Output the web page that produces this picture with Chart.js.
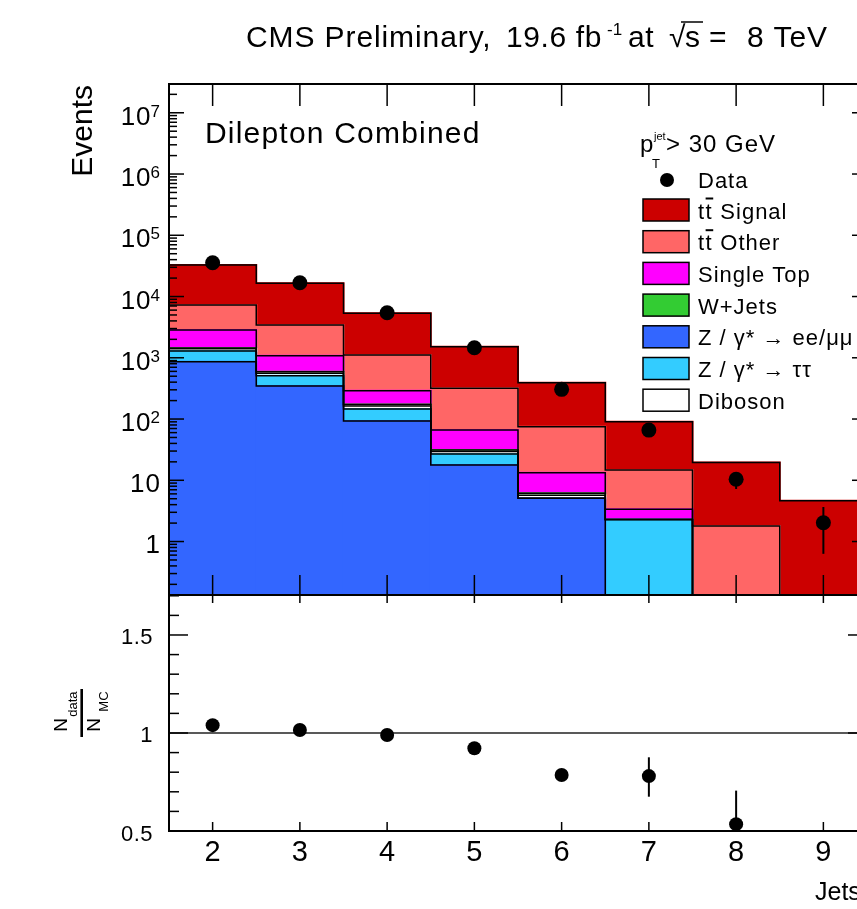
<!DOCTYPE html>
<html>
<head>
<meta charset="utf-8">
<script src="https://cdn.jsdelivr.net/npm/chart.js@4.4.1/dist/chart.umd.min.js"></script>
<style>
  html, body { margin: 0; padding: 0; background: #fff; overflow: hidden; }
  #wrap { position: relative; width: 857px; height: 909px; overflow: hidden; background: #fff; }
  canvas { position: absolute; left: 0; top: 0; }
</style>
</head>
<body>
<div id="wrap">
  <canvas id="main" width="880" height="909"></canvas>
  <canvas id="ratio" width="880" height="909"></canvas>
</div>
<script>
// jet multiplicity bins
var jetBins = [2, 3, 4, 5, 6, 7, 8, 9]

// MC components per bin, bottom of the stack first
var zEEMuMu   = [860, 346, 93, 17.7, 5.07, 0, 0, 0]
var zTauTau   = [430, 163, 53, 9.1, 0, 2.3, 0, 0]
var diboson   = [110, 50, 17, 2.8, 0.65, 0, 0, 0]
var wJets     = [50, 30, 10, 1.6, 0.4, 0, 0, 0]
var singleTop = [1390, 490, 117, 34.9, 7.2, 1.06, 0, 0]
var ttOther   = [4420, 2345, 819, 251, 61.5, 11.3, 1.79, 0]
var ttSignal  = [25440, 13000, 4211, 1197, 317, 75.7, 17.8, 4.64]

// data points and their error bars
var dataEvents = [35600, 16800, 5440, 1460, 305, 66, 10.4, 2.03]
var dataErrLo  = [35400, 16670, 5370, 1420, 288, 58, 7.2, 0.63]
var dataErrHi  = [35800, 16930, 5510, 1500, 323, 75, 12.6, 3.66]

// ratio panel (bin 9 falls below the shown range)
var ratioValues = [1.04, 1.015, 0.99, 0.922, 0.786, 0.78, 0.535, null]
var ratioErrLo  = [1.03, 1.005, 0.98, 0.91, 0.765, 0.675, 0.36, null]
var ratioErrHi  = [1.05, 1.025, 1.0, 0.934, 0.807, 0.876, 0.706, null]

// tick labels
var logTickExp = [0, 1, 2, 3, 4, 5, 6, 7]
var ratioTickValues = [0.5, 1, 1.5]
var ratioTickLabels = ["0.5", "1", "1.5"]

var xMin = 1.5, xMax = 9.5
var yMin = 0.134, yMax = 2.95e7
var ratioMin = 0.5, ratioMax = 1.704

var stack = [
    { name: "Z / γ* → ee/μμ", values: zEEMuMu, color: "#3366ff" },
    { name: "Z / γ* → ττ", values: zTauTau, color: "#33ccff" },
    { name: "Diboson", values: diboson, color: "#ffffff" },
    { name: "W+Jets", values: wJets, color: "#33cc33" },
    { name: "Single Top", values: singleTop, color: "#ff00ff" },
    { name: " Other", tt: true, values: ttOther, color: "#ff6666" },
    { name: " Signal", tt: true, values: ttSignal, color: "#cc0000" }
]
// legend order, top to bottom
var legendRows = [6, 5, 4, 3, 0, 1, 2]

function font(size) { return size + 'px "Liberation Sans", Arial, sans-serif' }

function write(ctx, s, x, y, size, align, spacing) {
    ctx.letterSpacing = (spacing || 0) + "px"
    ctx.font = font(size)
    ctx.textAlign = align || "left"
    ctx.textBaseline = "alphabetic"
    ctx.fillText(s, x, y)
}

function widthOf(ctx, s, size, spacing) {
    ctx.letterSpacing = (spacing || 0) + "px"
    ctx.font = font(size)
    return ctx.measureText(s).width
}

function seg(ctx, x1, y1, x2, y2) {
    ctx.beginPath()
    ctx.moveTo(x1, y1)
    ctx.lineTo(x2, y2)
    ctx.stroke()
}

// build stacked layers: fills as floating bars, outlines as step lines
var running = jetBins.map(function () { return 0 })
var barSets = []
var edgeSets = []
stack.forEach(function (layer) {
    var lower = running.slice()
    running = running.map(function (v, i) { return v + layer.values[i] })
    var upper = running.slice()

    var bars = []
    jetBins.forEach(function (b, i) {
        if (upper[i] > lower[i]) bars.push({ x: b, y: [Math.max(lower[i], yMin), upper[i]] })
    })
    barSets.push({
        type: "bar", data: bars, backgroundColor: layer.color, borderWidth: 0, inflateAmount: 1,
        grouped: false, barPercentage: 1, categoryPercentage: 1, order: 3
    })

    var edges = jetBins.map(function (b, i) { return { x: b - 0.5, y: Math.max(upper[i], yMin) } })
    edges.push({ x: jetBins[jetBins.length - 1] + 0.5, y: Math.max(upper[upper.length - 1], yMin) })
    edgeSets.push({
        type: "line", data: edges, stepped: "before", borderColor: "#000", borderWidth: 1.5,
        pointRadius: 0, fill: false, order: 2
    })
})

var dataSet = {
    type: "line", showLine: false, order: 1,
    data: jetBins.map(function (b, i) { return { x: b, y: dataEvents[i] } }),
    pointRadius: 7.5, pointBackgroundColor: "#000", pointBorderColor: "#000", pointBorderWidth: 0
}

var mainDecor = {
    id: "mainDecor",
    afterDatasetsDraw: function (chart) {
        var ctx = chart.ctx, area = chart.chartArea, xs = chart.scales.x, ys = chart.scales.y
        ctx.save()
        ctx.beginPath()
        ctx.rect(area.left, area.top, area.right - area.left, area.bottom - area.top)
        ctx.clip()
        ctx.strokeStyle = "#000"
        ctx.lineWidth = 2
        jetBins.forEach(function (b, i) {
            var px = xs.getPixelForValue(b)
            seg(ctx, px, ys.getPixelForValue(dataErrLo[i]), px, ys.getPixelForValue(dataErrHi[i]))
        })
        ctx.restore()
    },
    afterDraw: function (chart) {
        var ctx = chart.ctx, area = chart.chartArea, xs = chart.scales.x, ys = chart.scales.y
        ctx.save()
        ctx.fillStyle = "#000"
        ctx.strokeStyle = "#000"

        // log ticks on both sides
        ctx.lineWidth = 1.5
        for (var e = -1; e <= 7; e++) {
            for (var m = 1; m <= 9; m++) {
                var v = m * Math.pow(10, e)
                if (v < yMin || v > yMax) continue
                var py = ys.getPixelForValue(v)
                var len = m == 1 ? 15 : 8
                seg(ctx, area.left, py, area.left + len, py)
                seg(ctx, area.right, py, area.right - len, py)
            }
        }
        jetBins.forEach(function (b) {
            var px = xs.getPixelForValue(b)
            seg(ctx, px, area.bottom, px, area.bottom - 20)
            seg(ctx, px, area.top, px, area.top + 22)
        })
        ctx.lineWidth = 2
        ctx.strokeRect(area.left, area.top, area.right - area.left, area.bottom - area.top)

        // y tick labels
        logTickExp.forEach(function (n) {
            var py = ys.getPixelForValue(Math.pow(10, n))
            if (n == 0) write(ctx, "1", 160, py + 11, 26, "right")
            else if (n == 1) write(ctx, "10", 161, py + 11.5, 26, "right", 1)
            else {
                var w = widthOf(ctx, String(n), 17)
                write(ctx, String(n), 160, py + 4, 17, "right")
                write(ctx, "10", 161 - w, py + 12, 26, "right", 1)
            }
        })

        // axis title
        ctx.save()
        ctx.translate(92, 85)
        ctx.rotate(-Math.PI / 2)
        write(ctx, "Events", 0, 0, 30, "right")
        ctx.restore()

        // title
        write(ctx, "CMS Preliminary,", 246, 47, 30, "left", 0.9)
        write(ctx, "19.6 fb", 506, 47, 30, "left", 0.6)
        write(ctx, "-1", 607, 35, 17, "left")
        write(ctx, "at", 628, 47, 30, "left", 0.6)
        write(ctx, "√", 669, 47, 30, "left")
        write(ctx, "s", 685, 47, 30, "left")
        ctx.lineWidth = 1.5
        seg(ctx, 681, 22, 703, 22)
        write(ctx, "=", 709, 47, 30, "left")
        write(ctx, "8 TeV", 747, 47, 30, "left", 0.8)

        // channel label
        write(ctx, "Dilepton Combined", 205, 143, 30, "left", 1.2)

        // legend
        write(ctx, "p", 640, 152, 24, "left")
        write(ctx, "jet", 654, 140, 11, "left")
        write(ctx, "T", 652, 168, 13, "left")
        write(ctx, "> 30 GeV", 666, 152, 24, "left", 1)

        ctx.beginPath()
        ctx.arc(667, 180, 7, 0, Math.PI * 2)
        ctx.fill()
        write(ctx, "Data", 698, 188, 22, "left", 1)

        legendRows.forEach(function (k, i) {
            var layer = stack[k]
            var top = 199 + i * 31.7
            ctx.fillStyle = layer.color
            ctx.fillRect(643, top, 46, 22)
            ctx.lineWidth = 1.5
            ctx.strokeStyle = "#000"
            ctx.strokeRect(643, top, 46, 22)
            ctx.fillStyle = "#000"
            var base = top + 19.5
            if (layer.tt) {
                var w1 = widthOf(ctx, "t", 22, 1.5)
                write(ctx, "tt", 698, base, 22, "left", 1.5)
                ctx.lineWidth = 2
                seg(ctx, 698 + w1, top - 0.5, 698 + 2 * w1, top - 0.5)
                write(ctx, layer.name, 698 + 2 * w1, base, 22, "left", 1)
            } else {
                write(ctx, layer.name, 698, base, 22, "left", 1)
            }
        })
        ctx.restore()
    }
}

new Chart(document.getElementById("main"), {
    type: "bar",
    data: { datasets: barSets.concat(edgeSets).concat([dataSet]) },
    options: {
        responsive: false,
        animation: false,
        devicePixelRatio: 1,
        layout: { padding: { left: 169, top: 84, right: 13, bottom: 909 - 595 } },
        plugins: { legend: { display: false }, tooltip: { enabled: false } },
        scales: {
            x: {
                type: "linear", min: xMin, max: xMax, offset: false, bounds: "data", display: false,
                afterBuildTicks: function (s) { s.ticks = jetBins.map(function (v) { return { value: v } }) }
            },
            y: { type: "logarithmic", min: yMin, max: yMax, display: false }
        }
    },
    plugins: [mainDecor]
})

// ratio panel
var ratioPoints = []
jetBins.forEach(function (b, i) {
    if (ratioValues[i] != null) ratioPoints.push({ x: b, y: ratioValues[i] })
})

var ratioDecor = {
    id: "ratioDecor",
    afterDatasetsDraw: function (chart) {
        var ctx = chart.ctx, area = chart.chartArea, xs = chart.scales.x, ys = chart.scales.y
        ctx.save()
        ctx.beginPath()
        ctx.rect(area.left, area.top, area.right - area.left, area.bottom - area.top)
        ctx.clip()
        ctx.strokeStyle = "#000"
        ctx.lineWidth = 2
        jetBins.forEach(function (b, i) {
            if (ratioValues[i] == null) return
            var px = xs.getPixelForValue(b)
            seg(ctx, px, ys.getPixelForValue(ratioErrLo[i]), px, ys.getPixelForValue(ratioErrHi[i]))
        })
        ctx.restore()
    },
    afterDraw: function (chart) {
        var ctx = chart.ctx, area = chart.chartArea, xs = chart.scales.x, ys = chart.scales.y
        ctx.save()
        ctx.fillStyle = "#000"
        ctx.strokeStyle = "#000"
        ctx.lineWidth = 1.5
        for (var k = 5; k <= 17; k++) {
            var v = k / 10
            if (v > ratioMax) continue
            var py = ys.getPixelForValue(v)
            var len = k % 5 == 0 ? 19 : 10
            seg(ctx, area.left, py, area.left + len, py)
            seg(ctx, area.right, py, area.right - len, py)
        }
        jetBins.forEach(function (b) {
            var px = xs.getPixelForValue(b)
            seg(ctx, px, area.bottom, px, area.bottom - 9)
            seg(ctx, px, area.top, px, area.top + 8)
        })
        ctx.lineWidth = 2
        ctx.strokeRect(area.left, area.top, area.right - area.left, area.bottom - area.top)

        ratioTickValues.forEach(function (v, i) {
            write(ctx, ratioTickLabels[i], 153, ys.getPixelForValue(v) + 9.5, 22, "right", 0.5)
        })
        jetBins.forEach(function (b) {
            write(ctx, String(b), xs.getPixelForValue(b), 861, 29, "center")
        })
        write(ctx, "Jets", 815, 900, 25, "left")

        // N_data / N_MC
        ctx.save()
        ctx.translate(81.7, 713)
        ctx.rotate(-Math.PI / 2)
        write(ctx, "N", -18.7, -14.4, 19, "left")
        write(ctx, "data", -3.7, -4.7, 13, "left")
        ctx.fillRect(-24, -1.3, 48, 2.6)
        write(ctx, "N", -18.7, 18.3, 19, "left")
        write(ctx, "MC", 1.3, 26.3, 13, "left")
        ctx.restore()
        ctx.restore()
    }
}

new Chart(document.getElementById("ratio"), {
    type: "line",
    data: {
        datasets: [
            {
                data: [{ x: xMin, y: 1 }, { x: xMax, y: 1 }],
                borderColor: "#222", borderWidth: 1.5, pointRadius: 0, fill: false, order: 2
            },
            {
                data: ratioPoints, showLine: false, order: 1,
                pointRadius: 7, pointBackgroundColor: "#000", pointBorderColor: "#000", pointBorderWidth: 0
            }
        ]
    },
    options: {
        responsive: false,
        animation: false,
        devicePixelRatio: 1,
        layout: { padding: { left: 169, top: 595, right: 13, bottom: 909 - 831 } },
        plugins: { legend: { display: false }, tooltip: { enabled: false } },
        scales: {
            x: { type: "linear", min: xMin, max: xMax, offset: false, bounds: "data", display: false },
            y: { type: "linear", min: ratioMin, max: ratioMax, display: false }
        }
    },
    plugins: [ratioDecor]
})
</script>
</body>
</html>
